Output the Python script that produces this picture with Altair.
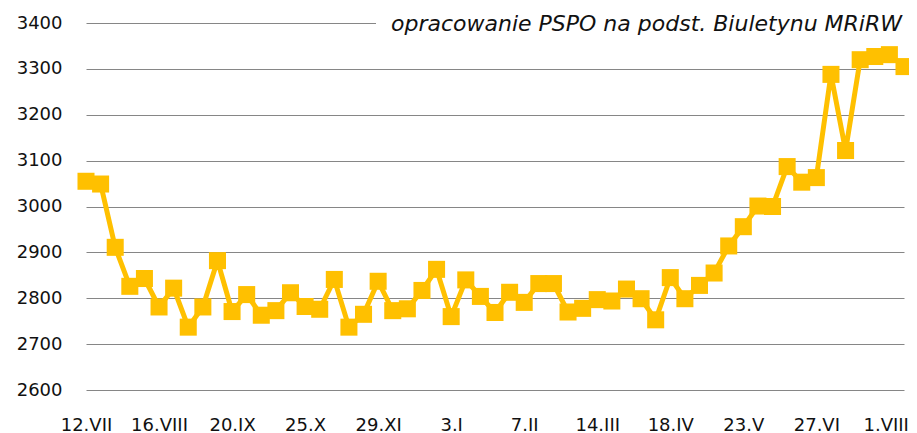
import altair as alt
import pandas as pd

DATES = ["12.VII", "19.VII", "26.VII", "2.VIII", "9.VIII", "16.VIII", "23.VIII", "30.VIII",
         "6.IX", "13.IX", "20.IX", "27.IX", "4.X", "11.X", "18.X", "25.X", "1.XI", "8.XI",
         "15.XI", "22.XI", "29.XI", "6.XII", "13.XII", "20.XII", "27.XII", "3.I", "10.I",
         "17.I", "24.I", "31.I", "7.II", "14.II", "21.II", "28.II", "7.III", "14.III",
         "21.III", "28.III", "4.IV", "11.IV", "18.IV", "25.IV", "2.V", "9.V", "16.V", "23.V",
         "30.V", "6.VI", "13.VI", "20.VI", "27.VI", "4.VII", "11.VII", "18.VII", "25.VII",
         "1.VIII", "8.VIII"]

PRICES = [3055, 3049, 2911, 2826, 2843, 2781, 2822, 2737, 2781, 2882,
          2771, 2808, 2763, 2773, 2812, 2782, 2776, 2841, 2737, 2765,
          2837, 2773, 2777, 2817, 2863, 2760, 2840, 2804, 2769, 2813,
          2791, 2832, 2832, 2770, 2778, 2797, 2794, 2820, 2799, 2753,
          2845, 2799, 2828, 2855, 2914, 2956, 3001, 3000, 3087, 3053,
          3063, 3288, 3122, 3320, 3327, 3331, 3305]

Y_TICKS = [2600, 2700, 2800, 2900, 3000, 3100, 3200, 3300, 3400]
X_TICKS = [0, 5, 10, 15, 20, 25, 30, 35, 40, 45, 50, 55]
NOTE = "opracowanie PSPO na podst. Biuletynu MRiRW"

df = pd.DataFrame({"i": list(range(len(PRICES))), "data": DATES, "cena": PRICES})

GOLD = "#FFC000"
FONT = "DejaVu Sans"

label_expr = "[" + ",".join("'%s'" % d for d in DATES) + "][datum.value]"

x = alt.X("i:Q", scale=alt.Scale(domain=[0, 56], nice=False, zero=False),
          axis=alt.Axis(values=X_TICKS, labelExpr=label_expr, grid=False, domain=False,
                        ticks=False, tickSize=0, labelPadding=26, labelBaseline="top",
                        labelAlign={"condition": {"test": "datum.value == 55", "value": "right"},
                                    "value": "center"},
                        labelOffset={"condition": {"test": "datum.value == 55", "value": 19},
                                     "value": 0},
                        labelFontSize=18, labelFont=FONT, labelColor="#111",
                        labelOverlap=False, title=None, labelFlush=False))
y = alt.Y("cena:Q", scale=alt.Scale(domain=[2600, 3400], nice=False, zero=False),
          axis=alt.Axis(values=Y_TICKS, format="d", grid=True, gridColor="#868686", gridWidth=1,
                        domain=False, ticks=False, tickSize=0, labelPadding=24,
                        labelFontSize=18, labelFont=FONT, labelColor="#111", title=None))

base = alt.Chart(df)
line = base.mark_line(color=GOLD, strokeWidth=5).encode(x=x, y=y)
pts = base.mark_point(shape="square", filled=True, size=290, color=GOLD, opacity=1).encode(x=x, y=y)

box = alt.Chart(pd.DataFrame({"a": [0]})).mark_rect(color="white").encode(
    x=alt.value(290), x2=alt.value(830), y=alt.value(-12), y2=alt.value(12))
note = alt.Chart(pd.DataFrame({"t": [NOTE]})).mark_text(
    align="right", baseline="alphabetic", font=FONT, fontStyle="italic", fontSize=22,
    color="#111").encode(text="t:N", x=alt.value(816), y=alt.value(8))

chart = alt.layer(line, pts, box, note).properties(
    width=818, height=367,
    autosize=alt.AutoSizeParams(type="none"),
    padding={"left": 78, "top": 15, "right": 5, "bottom": 43},
).configure_view(stroke=None)

chart.save("out.html", embed_options={"renderer": "svg", "actions": False})
